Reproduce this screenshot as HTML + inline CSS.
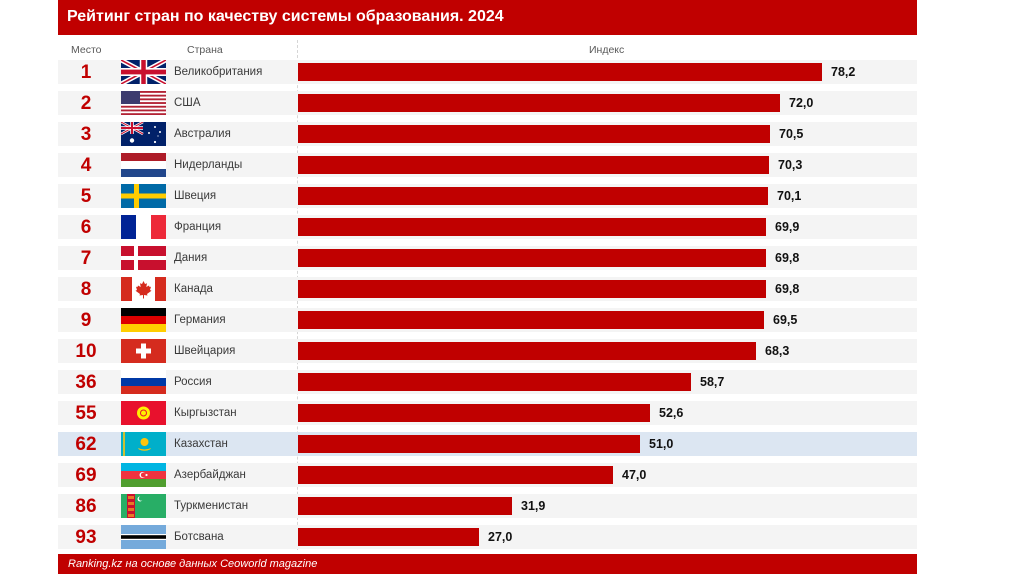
<!DOCTYPE html>
<html><head><meta charset="utf-8">
<style>
*{margin:0;padding:0;box-sizing:border-box}
body{width:1024px;height:574px;background:#fff;position:relative;overflow:hidden;font-family:"Liberation Sans","DejaVu Sans",sans-serif}
.hdr{position:absolute;left:58px;top:0;width:859px;height:35px;background:#c00000}
.title{position:absolute;left:67px;top:8px;color:#fff;font-weight:bold;font-size:16px;white-space:nowrap}
.colh{position:absolute;top:44px;font-size:10.5px;color:#595959;white-space:nowrap}
.band{position:absolute;left:58px;width:859px;height:24px;background:#f4f4f4}
.rank{position:absolute;left:58px;width:56px;text-align:center;font-weight:bold;font-size:19px;color:#c00000;line-height:26px}
.flag{position:absolute;left:121px;width:45px;height:24px}
.name{position:absolute;left:174px;font-size:11.5px;color:#3a3a3a;line-height:25px;white-space:nowrap}
.bar{position:absolute;left:298px;height:18px;background:#c00000}
.val{position:absolute;font-weight:bold;font-size:12.5px;color:#111;line-height:25px}
.dash{position:absolute;left:297px;top:40px;height:510px;border-left:1px dashed #d6d6d6}
.ftr{position:absolute;left:58px;top:554px;width:859px;height:20px;background:#c00000}
.ftxt{position:absolute;left:68px;top:558px;color:#fff;font-style:italic;font-size:11px;white-space:nowrap}
</style></head><body>
<div class="hdr"></div>
<div class="title">Рейтинг стран по качеству системы образования. 2024</div>
<div class="colh" style="left:71px">Место</div>
<div class="colh" style="left:187px">Страна</div>
<div class="colh" style="left:589px">Индекс</div>
<div class="dash"></div>

<!-- bands -->
<div class="band" style="top:60px"></div>
<div class="band" style="top:91px"></div>
<div class="band" style="top:122px"></div>
<div class="band" style="top:153px"></div>
<div class="band" style="top:184px"></div>
<div class="band" style="top:215px"></div>
<div class="band" style="top:246px"></div>
<div class="band" style="top:277px"></div>
<div class="band" style="top:308px"></div>
<div class="band" style="top:339px"></div>
<div class="band" style="top:370px"></div>
<div class="band" style="top:401px"></div>
<div class="band" style="top:432px;background:#dce6f2"></div>
<div class="band" style="top:463px"></div>
<div class="band" style="top:494px"></div>
<div class="band" style="top:525px"></div>

<!-- ranks -->
<div class="rank" style="top:60px">1</div>
<div class="rank" style="top:91px">2</div>
<div class="rank" style="top:122px">3</div>
<div class="rank" style="top:153px">4</div>
<div class="rank" style="top:184px">5</div>
<div class="rank" style="top:215px">6</div>
<div class="rank" style="top:246px">7</div>
<div class="rank" style="top:277px">8</div>
<div class="rank" style="top:308px">9</div>
<div class="rank" style="top:339px">10</div>
<div class="rank" style="top:370px">36</div>
<div class="rank" style="top:401px">55</div>
<div class="rank" style="top:432px">62</div>
<div class="rank" style="top:463px">69</div>
<div class="rank" style="top:494px">86</div>
<div class="rank" style="top:525px">93</div>

<!-- flags -->
<svg class="flag" style="top:60px" viewBox="0 0 60 30" preserveAspectRatio="none">
<rect width="60" height="30" fill="#012169"/>
<path d="M0,0 L60,30 M60,0 L0,30" stroke="#fff" stroke-width="6"/>
<path d="M0,0 L60,30 M60,0 L0,30" stroke="#c8102e" stroke-width="2"/>
<path d="M30,0 V30 M0,15 H60" stroke="#fff" stroke-width="10"/>
<path d="M30,0 V30 M0,15 H60" stroke="#c8102e" stroke-width="6"/>
</svg>
<svg class="flag" style="top:91px" viewBox="0 0 45 24" preserveAspectRatio="none">
<rect width="45" height="24" fill="#fff"/>
<g fill="#b22234"><rect y="0" width="45" height="1.85"/><rect y="3.7" width="45" height="1.85"/><rect y="7.4" width="45" height="1.85"/><rect y="11.1" width="45" height="1.85"/><rect y="14.8" width="45" height="1.85"/><rect y="18.5" width="45" height="1.85"/><rect y="22.2" width="45" height="1.8"/></g>
<rect width="19" height="13" fill="#3c3b6e"/>
</svg>
<svg class="flag" style="top:122px" viewBox="0 0 45 24" preserveAspectRatio="none">
<rect width="45" height="24" fill="#012169"/>
<g>
<path d="M0,0 L22,12 M22,0 L0,12" stroke="#fff" stroke-width="2.5"/>
<path d="M0,0 L22,12 M22,0 L0,12" stroke="#c8102e" stroke-width="1"/>
<path d="M11,0 V12 M0,6 H22" stroke="#fff" stroke-width="3.5"/>
<path d="M11,0 V12 M0,6 H22" stroke="#c8102e" stroke-width="2"/>
</g>
<g fill="#fff"><circle cx="11" cy="18.5" r="2.2"/><circle cx="34" cy="5" r="1"/><circle cx="28" cy="11" r="1"/><circle cx="39" cy="10" r="1"/><circle cx="34" cy="20" r="1.1"/><circle cx="37" cy="14" r="0.6"/></g>
</svg>
<svg class="flag" style="top:153px" viewBox="0 0 45 24" preserveAspectRatio="none">
<rect width="45" height="8" fill="#ae1c28"/><rect y="8" width="45" height="8" fill="#fff"/><rect y="16" width="45" height="8" fill="#21468b"/>
</svg>
<svg class="flag" style="top:184px" viewBox="0 0 45 24" preserveAspectRatio="none">
<rect width="45" height="24" fill="#006aa7"/><rect x="13" width="5" height="24" fill="#fecc00"/><rect y="9.5" width="45" height="5" fill="#fecc00"/>
</svg>
<svg class="flag" style="top:215px" viewBox="0 0 45 24" preserveAspectRatio="none">
<rect width="15" height="24" fill="#002395"/><rect x="15" width="15" height="24" fill="#fff"/><rect x="30" width="15" height="24" fill="#ed2939"/>
</svg>
<svg class="flag" style="top:246px" viewBox="0 0 45 24" preserveAspectRatio="none">
<rect width="45" height="24" fill="#c8102e"/><rect x="13" width="4" height="24" fill="#fff"/><rect y="10" width="45" height="4" fill="#fff"/>
</svg>
<svg class="flag" style="top:277px" viewBox="0 0 45 24" preserveAspectRatio="none">
<rect width="45" height="24" fill="#fff"/><rect width="11" height="24" fill="#d52b1e"/><rect x="34" width="11" height="24" fill="#d52b1e"/>
<path d="M22.5,4 L24,7 L26,6.3 L25.3,10 L28,8.5 L28.5,10 L30,9.8 L29,13 L30.5,13.8 L26,17 L26.5,18.5 L23,18 L23,21.5 L22,21.5 L22,18 L18.5,18.5 L19,17 L14.5,13.8 L16,13 L15,9.8 L16.5,10 L17,8.5 L19.7,10 L19,6.3 L21,7 Z" fill="#d52b1e"/>
</svg>
<svg class="flag" style="top:308px" viewBox="0 0 45 24" preserveAspectRatio="none">
<rect width="45" height="8" fill="#000"/><rect y="8" width="45" height="8" fill="#dd0000"/><rect y="16" width="45" height="8" fill="#ffce00"/>
</svg>
<svg class="flag" style="top:339px" viewBox="0 0 45 24" preserveAspectRatio="none">
<rect width="45" height="24" fill="#d52b1e"/><rect x="20" y="4.5" width="5" height="15" fill="#fff"/><rect x="15" y="9.5" width="15" height="5" fill="#fff"/>
</svg>
<svg class="flag" style="top:370px" viewBox="0 0 45 24" preserveAspectRatio="none">
<rect width="45" height="8" fill="#fff"/><rect y="8" width="45" height="8" fill="#0039a6"/><rect y="16" width="45" height="8" fill="#d52b1e"/>
</svg>
<svg class="flag" style="top:401px" viewBox="0 0 45 24" preserveAspectRatio="none">
<rect width="45" height="24" fill="#e8112d"/><circle cx="22.5" cy="12" r="6.5" fill="#ffef00"/><circle cx="22.5" cy="12" r="3.5" fill="#e8112d"/><circle cx="22.5" cy="12" r="2.5" fill="#ffef00"/>
</svg>
<svg class="flag" style="top:432px" viewBox="0 0 45 24" preserveAspectRatio="none">
<rect width="45" height="24" fill="#00afca"/><rect x="2" width="2" height="24" fill="#fec50c" opacity="0.8"/><circle cx="23.5" cy="10" r="4" fill="#fec50c"/><path d="M17,16 Q23.5,19 30,16 L29,17.5 Q23.5,20 18,17.5 Z" fill="#fec50c"/>
</svg>
<svg class="flag" style="top:463px" viewBox="0 0 45 24" preserveAspectRatio="none">
<rect width="45" height="8" fill="#00b5e2"/><rect y="8" width="45" height="8" fill="#ef3340"/><rect y="16" width="45" height="8" fill="#509e2f"/>
<circle cx="21.5" cy="12" r="3" fill="#fff"/><circle cx="22.3" cy="12" r="2.4" fill="#ef3340"/><circle cx="25.5" cy="12" r="1.1" fill="#fff"/>
</svg>
<svg class="flag" style="top:494px" viewBox="0 0 45 24" preserveAspectRatio="none">
<rect width="45" height="24" fill="#28ae66"/><rect x="6" width="8" height="24" fill="#c8102e"/>
<g fill="#f5a623" opacity="0.7"><rect x="7" y="2" width="6" height="3"/><rect x="7" y="8" width="6" height="3"/><rect x="7" y="14" width="6" height="3"/><rect x="7" y="20" width="6" height="3"/></g>
<circle cx="19" cy="5" r="2.5" fill="#fff"/><circle cx="20" cy="4.5" r="2.2" fill="#28ae66"/>
</svg>
<svg class="flag" style="top:525px" viewBox="0 0 45 24" preserveAspectRatio="none">
<rect width="45" height="24" fill="#75aadb"/><rect y="9" width="45" height="6" fill="#fff"/><rect y="10.2" width="45" height="3.6" fill="#000"/>
</svg>

<!-- names -->
<div class="name" style="top:60px">Великобритания</div>
<div class="name" style="top:91px">США</div>
<div class="name" style="top:122px">Австралия</div>
<div class="name" style="top:153px">Нидерланды</div>
<div class="name" style="top:184px">Швеция</div>
<div class="name" style="top:215px">Франция</div>
<div class="name" style="top:246px">Дания</div>
<div class="name" style="top:277px">Канада</div>
<div class="name" style="top:308px">Германия</div>
<div class="name" style="top:339px">Швейцария</div>
<div class="name" style="top:370px">Россия</div>
<div class="name" style="top:401px">Кыргызстан</div>
<div class="name" style="top:432px">Казахстан</div>
<div class="name" style="top:463px">Азербайджан</div>
<div class="name" style="top:494px">Туркменистан</div>
<div class="name" style="top:525px">Ботсвана</div>

<!-- bars -->
<div class="bar" style="top:63px;width:524px"></div>
<div class="bar" style="top:94px;width:482px"></div>
<div class="bar" style="top:125px;width:472px"></div>
<div class="bar" style="top:156px;width:471px"></div>
<div class="bar" style="top:187px;width:470px"></div>
<div class="bar" style="top:218px;width:468px"></div>
<div class="bar" style="top:249px;width:468px"></div>
<div class="bar" style="top:280px;width:468px"></div>
<div class="bar" style="top:311px;width:466px"></div>
<div class="bar" style="top:342px;width:458px"></div>
<div class="bar" style="top:373px;width:393px"></div>
<div class="bar" style="top:404px;width:352px"></div>
<div class="bar" style="top:435px;width:342px"></div>
<div class="bar" style="top:466px;width:315px"></div>
<div class="bar" style="top:497px;width:214px"></div>
<div class="bar" style="top:528px;width:181px"></div>

<!-- values -->
<div class="val" style="top:60px;left:831px">78,2</div>
<div class="val" style="top:91px;left:789px">72,0</div>
<div class="val" style="top:122px;left:779px">70,5</div>
<div class="val" style="top:153px;left:778px">70,3</div>
<div class="val" style="top:184px;left:777px">70,1</div>
<div class="val" style="top:215px;left:775px">69,9</div>
<div class="val" style="top:246px;left:775px">69,8</div>
<div class="val" style="top:277px;left:775px">69,8</div>
<div class="val" style="top:308px;left:773px">69,5</div>
<div class="val" style="top:339px;left:765px">68,3</div>
<div class="val" style="top:370px;left:700px">58,7</div>
<div class="val" style="top:401px;left:659px">52,6</div>
<div class="val" style="top:432px;left:649px">51,0</div>
<div class="val" style="top:463px;left:622px">47,0</div>
<div class="val" style="top:494px;left:521px">31,9</div>
<div class="val" style="top:525px;left:488px">27,0</div>

<div class="ftr"></div>
<div class="ftxt">Ranking.kz на основе данных Ceoworld magazine</div>
</body></html>
